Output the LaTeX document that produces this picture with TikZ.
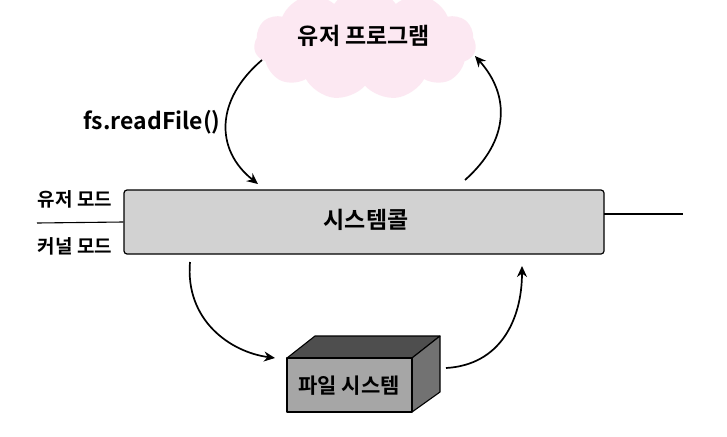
\documentclass[tikz,border=0pt]{standalone}
\usepackage{fontspec}
\newfontfamily\kr{Noto Sans CJK KR}[BoldFont={* Bold}]
\usetikzlibrary{shapes.symbols,arrows.meta,calc}
\definecolor{cloudpink}{HTML}{FCE8F2}
\definecolor{barfill}{HTML}{D2D2D2}
\definecolor{boxfront}{HTML}{A6A6A6}
\definecolor{boxtop}{HTML}{4E4E4E}
\definecolor{boxside}{HTML}{727272}
\tikzset{
  lbl/.style={font=\kr\bfseries\fontsize{19}{22}\selectfont, inner sep=0pt},
  flow/.style={line width=1.7pt, -{Stealth[length=11pt,width=10pt]}},
  rule/.style={line width=1.1pt},
}
\begin{document}
\begin{tikzpicture}[x=1pt,y=-1pt]
\useasboundingbox (0,0) rectangle (727,436);
\fill[white] (0,0) rectangle (727,436);
% cloud
\node[cloud, cloud puffs=11, cloud puff arc=110, aspect=2.1, fill=cloudpink,
      minimum width=222pt, minimum height=112pt, inner sep=0pt] (cloud) at (365,44) {};
\node[lbl, font=\kr\bfseries\fontsize{23}{26}\selectfont] (prog) at (364,36) {유저 프로그램};
% system call bar
\node[draw, line width=1.2pt, rounded corners=3pt, fill=barfill,
      minimum width=480pt, minimum height=64pt, inner sep=0pt] (bar) at (364,222) {};
\node[lbl, font=\kr\bfseries\fontsize{23}{26}\selectfont] (sc) at (366,220) {시스템콜};
% mode lines and labels
\coordinate (ml) at (37,223);
\coordinate (mr) at (683,214);
\coordinate (br) at (604,214);
\draw[rule] (ml) -- (bar.west);
\draw[rule] (br) -- (mr);
\node[lbl] (um) at (75,199) {유저 모드};
\node[lbl] (km) at (75,246) {커널 모드};
% file system box
\coordinate (f1) at (287,358);
\coordinate (f2) at (412,358);
\coordinate (f3) at (412,412);
\coordinate (f4) at (287,412);
\coordinate (b1) at (315,336);
\coordinate (b2) at (440,336);
\coordinate (b3) at (440,392);
\filldraw[fill=boxtop, line width=1.1pt, line join=round] (f1) -- (b1) -- (b2) -- (f2) -- cycle;
\filldraw[fill=boxside, line width=1.1pt, line join=round] (f2) -- (b2) -- (b3) -- (f3) -- cycle;
\filldraw[fill=boxfront, line width=1.1pt, line join=round] (f1) -- (f2) -- (f3) -- (f4) -- cycle;
\node[lbl, font=\kr\bfseries\fontsize{21}{24}\selectfont] (fs) at (349,386) {파일 시스템};
% arrows
\coordinate (a1s) at (262,60);
\coordinate (a1e) at (258,184);
\draw[flow] (a1s) .. controls (215,100) and (215,150) .. (a1e);
\node[font=\kr\bfseries\fontsize{23}{26}\selectfont, inner sep=0pt] (rf) at (152,122) {fs.readFile()};
\coordinate (a2s) at (465,180);
\coordinate (a2e) at (475,56);
\draw[flow] (a2s) .. controls (510,140) and (510,95) .. (a2e);
\coordinate (a3s) at (190,262);
\coordinate (a3e) at (275,358);
\draw[flow] (a3s) .. controls (185,320) and (230,352) .. (a3e);
\coordinate (a4s) at (446,368);
\coordinate (a4e) at (522,266);
\draw[flow] (a4s) .. controls (500,365) and (522,320) .. (a4e);
\end{tikzpicture}
\end{document}
